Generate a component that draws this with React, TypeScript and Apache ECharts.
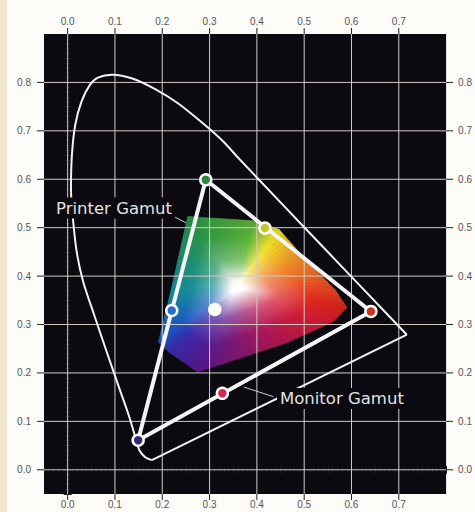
import React, { useEffect, useRef } from 'react';
import * as echarts from 'echarts';

// ---- axis ticks ----
const xMajorTicks = [0, 0.1, 0.2, 0.3, 0.4, 0.5, 0.6, 0.7];
const yMajorTicks = [0, 0.1, 0.2, 0.3, 0.4, 0.5, 0.6, 0.7, 0.8];

// ---- spectral locus ----
const locusX = [0.717, 0.628, 0.540, 0.455, 0.358, 0.330, 0.289, 0.233, 0.185, 0.137, 0.095, 0.064, 0.047, 0.029, 0.016, 0.009, 0.007, 0.012, 0.020, 0.033, 0.057, 0.081, 0.105, 0.130, 0.144, 0.152, 0.164, 0.178];
const locusY = [0.279, 0.370, 0.460, 0.547, 0.647, 0.677, 0.713, 0.757, 0.786, 0.808, 0.816, 0.810, 0.795, 0.760, 0.712, 0.650, 0.580, 0.510, 0.445, 0.388, 0.317, 0.248, 0.180, 0.110, 0.064, 0.040, 0.026, 0.020];
const purpleX = [0.178, 0.717];
const purpleY = [0.020, 0.279];

// ---- monitor gamut ----
const monitorX = [0.292, 0.641, 0.149, 0.292];
const monitorY = [0.599, 0.327, 0.061, 0.599];

const markerNames = ['Green', 'Yellow', 'Red', 'Magenta', 'Blue', 'Cyan', 'White'];
const markerX = [0.292, 0.417, 0.641, 0.327, 0.149, 0.220, 0.311];
const markerY = [0.599, 0.499, 0.327, 0.158, 0.061, 0.329, 0.331];
const markerColors = ['#2a8a3a', '#c8c428', '#d03222', '#d02848', '#32287a', '#2a6ec4', '#ffffff'];

// ---- printer gamut ----
const printerX = [0.254, 0.393, 0.447, 0.503, 0.565, 0.590, 0.561, 0.462, 0.275, 0.213, 0.192, 0.219];
const printerY = [0.523, 0.514, 0.496, 0.434, 0.372, 0.335, 0.306, 0.262, 0.202, 0.244, 0.264, 0.372];
const printerColors = ['#2a9446', '#5cb43a', '#f2e428', '#f28a26', '#ec4626', '#e0261c', '#d81e30', '#bc1850', '#561890', '#3a2eb0', '#1e52c8', '#17909c'];
const printerCenter = [0.358, 0.378];

// ---- leader lines ----
const printerLeaderX = [0.221, 0.250];
const printerLeaderY = [0.525, 0.510];
const monitorLeaderX = [0.372, 0.435];
const monitorLeaderY = [0.171, 0.151];

const GRID_COLOR = '#d2cbc4';
const TICK_COLOR = '#1e1e1e';
const LABEL_COLOR = '#555555';
const PLOT_BG = '#0b0a10';

function hexToRgb(h: string): number[] {
  const n = parseInt(h.slice(1), 16);
  return [(n >> 16) & 255, (n >> 8) & 255, n & 255];
}
function mixRgb(a: number[], b: number[], t: number): number[] {
  return [a[0] + (b[0] - a[0]) * t, a[1] + (b[1] - a[1]) * t, a[2] + (b[2] - a[2]) * t];
}
function rgbStr(c: number[]): string {
  return `rgb(${Math.round(c[0])},${Math.round(c[1])},${Math.round(c[2])})`;
}

const fmt = (max: number) => (v: number) => {
  const k = Math.round(v * 10);
  if (Math.abs(v * 10 - k) < 1e-6 && k >= 0 && k <= max) return (k / 10).toFixed(1);
  return '';
};

export default function App() {
  const ref = useRef<HTMLDivElement>(null);
  useEffect(() => {
    document.body.style.margin = '0';
    document.documentElement.style.overflow = 'hidden';
    if (!ref.current) return;
    const chart = echarts.init(ref.current, null, { renderer: 'svg', width: 475, height: 512 });
    const labelFont = { color: LABEL_COLOR, fontSize: 10, fontFamily: '"Liberation Sans", Arial, sans-serif' };
    const baseX = {
      type: 'value', min: -0.05, max: 0.8, interval: 0.05,
      axisLine: { show: false },
      axisTick: { show: true, length: 4, lineStyle: { color: TICK_COLOR } },
      minorTick: { show: true, splitNumber: 5, length: 2.5, lineStyle: { color: TICK_COLOR } },
      splitLine: { show: false },
      minorSplitLine: { show: false },
    };
    const baseY = { ...baseX, max: 0.9 };
    const white = [255, 255, 255];

    const option: any = {
      animation: false,
      backgroundColor: '#fdfcf9',
      grid: { show: true, left: 44, right: 22, top: 34, bottom: 18, backgroundColor: PLOT_BG, borderWidth: 0 },
      xAxis: [
        { ...baseX, position: 'bottom', axisLabel: { ...labelFont, margin: 5, formatter: fmt(7) } },
        { ...baseX, position: 'top', axisLabel: { ...labelFont, margin: 8, formatter: fmt(7) } },
      ],
      yAxis: [
        { ...baseY, position: 'left', axisLabel: { ...labelFont, margin: 13, formatter: fmt(8) } },
        { ...baseY, position: 'right', axisLabel: { ...labelFont, margin: 12, align: 'left', formatter: fmt(8) } },
      ],
      graphic: [
        { type: 'rect', shape: { x: 0, y: 0, width: 7, height: 512 }, style: { fill: '#f1e6d0' }, z: -1 },
        {
          type: 'text', x: 53, y: 208, z: 100,
          style: { text: 'Printer Gamut', fill: '#e2e2e2', font: '16.5px "DejaVu Sans", sans-serif', verticalAlign: 'middle', backgroundColor: PLOT_BG, padding: [2, 3] },
        },
        {
          type: 'text', x: 277, y: 398.5, z: 100,
          style: { text: 'Monitor Gamut', fill: '#e2e2e2', font: '16.5px "DejaVu Sans", sans-serif', verticalAlign: 'middle', backgroundColor: PLOT_BG, padding: [2, 3] },
        },
      ],
      series: [
        {
          type: 'custom', name: 'Printer Gamut', z: 1, silent: true,
          data: printerX.map((x, i) => [x, printerY[i]]),
          renderItem: (params: any, api: any) => {
            const n = printerX.length;
            const i = params.dataIndex;
            const j = (i + 1) % n;
            const c = api.coord(printerCenter);
            const a = api.coord([printerX[i], printerY[i]]);
            const b = api.coord([printerX[j], printerY[j]]);
            const ca = hexToRgb(printerColors[i]);
            const cb = hexToRgb(printerColors[j]);
            const S = 8;
            const children: any[] = [];
            for (let k = 0; k < S; k++) {
              const t0 = k / S, t1 = (k + 1) / S, tm = (k + 0.5) / S;
              const p0 = [a[0] + (b[0] - a[0]) * t0, a[1] + (b[1] - a[1]) * t0];
              const p1 = [a[0] + (b[0] - a[0]) * t1, a[1] + (b[1] - a[1]) * t1];
              const m = [(p0[0] + p1[0]) / 2, (p0[1] + p1[1]) / 2];
              const col = mixRgb(ca, cb, tm);
              const grad = new echarts.graphic.LinearGradient(c[0], c[1], m[0], m[1], [
                { offset: 0, color: '#ffffff' },
                { offset: 0.07, color: 'rgb(255,254,252)' },
                { offset: 0.38, color: rgbStr(mixRgb(col, white, 0.28)) },
                { offset: 0.7, color: rgbStr(col) },
                { offset: 1, color: rgbStr(mixRgb(col, [0, 0, 0], 0.08)) },
              ], true);
              children.push({
                type: 'polygon',
                shape: { points: [c, p0, p1] },
                style: { fill: grad, stroke: grad, lineWidth: 0.8 },
              });
            }
            return { type: 'group', children };
          },
        },
        {
          type: 'custom', name: 'vgrid', z: 3, silent: true,
          data: xMajorTicks.map((v) => [v, 0]),
          renderItem: (params: any, api: any) => {
            const p = api.coord([api.value(0), 0]);
            const cs = params.coordSys;
            const top = cs.y, bot = cs.y + cs.height;
            return {
              type: 'group', children: [
                { type: 'line', shape: { x1: p[0], y1: top, x2: p[0], y2: bot }, style: { stroke: GRID_COLOR, lineWidth: 1 } },
                { type: 'line', shape: { x1: p[0], y1: top - 6, x2: p[0], y2: top }, style: { stroke: TICK_COLOR, lineWidth: 1 } },
                { type: 'line', shape: { x1: p[0], y1: bot, x2: p[0], y2: bot + 6 }, style: { stroke: TICK_COLOR, lineWidth: 1 } },
              ],
            };
          },
        },
        {
          type: 'custom', name: 'hgrid', z: 3, silent: true,
          data: yMajorTicks.map((v) => [0, v]),
          renderItem: (params: any, api: any) => {
            const p = api.coord([0, api.value(1)]);
            const cs = params.coordSys;
            const l = cs.x, r = cs.x + cs.width;
            return {
              type: 'group', children: [
                { type: 'line', shape: { x1: l, y1: p[1], x2: r, y2: p[1] }, style: { stroke: GRID_COLOR, lineWidth: 1 } },
                { type: 'line', shape: { x1: l - 7, y1: p[1], x2: l, y2: p[1] }, style: { stroke: TICK_COLOR, lineWidth: 1 } },
                { type: 'line', shape: { x1: r, y1: p[1], x2: r + 7, y2: p[1] }, style: { stroke: TICK_COLOR, lineWidth: 1 } },
              ],
            };
          },
        },
        {
          type: 'line', name: 'Spectral locus', z: 4, silent: true, smooth: 0.3, symbol: 'none',
          data: locusX.map((x, i) => [x, locusY[i]]),
          lineStyle: { color: '#f2f2f2', width: 2 },
        },
        {
          type: 'line', name: 'Line of purples', z: 4, silent: true, symbol: 'none',
          data: purpleX.map((x, i) => [x, purpleY[i]]),
          lineStyle: { color: '#f2f2f2', width: 2 },
        },
        {
          type: 'line', name: 'Monitor Gamut', z: 5, silent: true, symbol: 'none',
          data: monitorX.map((x, i) => [x, monitorY[i]]),
          lineStyle: { color: '#f4f4f4', width: 4, join: 'round' },
        },
        {
          type: 'line', name: 'printer leader', z: 5, silent: true, symbol: 'none',
          data: printerLeaderX.map((x, i) => [x, printerLeaderY[i]]),
          lineStyle: { color: '#cfcfcf', width: 1 },
        },
        {
          type: 'line', name: 'monitor leader', z: 5, silent: true, symbol: 'none',
          data: monitorLeaderX.map((x, i) => [x, monitorLeaderY[i]]),
          lineStyle: { color: '#cfcfcf', width: 1 },
        },
        {
          type: 'scatter', name: 'Primaries', z: 6, silent: true, symbolSize: 11,
          data: markerX.map((x, i) => ({ name: markerNames[i], value: [x, markerY[i]], itemStyle: { color: markerColors[i] } })),
          itemStyle: { borderColor: '#ffffff', borderWidth: 2.5, opacity: 1 },
        },
      ],
    };
    chart.setOption(option);
    return () => chart.dispose();
  }, []);
  return <div ref={ref} style={{ width: 475, height: 512 }} />;
}
